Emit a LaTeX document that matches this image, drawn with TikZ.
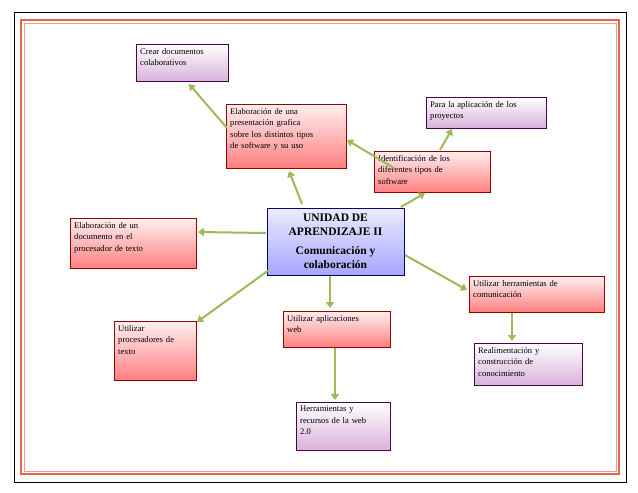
\documentclass[tikz,border=0pt]{standalone}
\usepackage{fontspec}
\setmainfont{Liberation Serif}
\usetikzlibrary{arrows.meta}
\definecolor{arrowgreen}{RGB}{155,187,89}
\newcommand\toptext[2]{\parbox[c][#1][t]{\linewidth}{\raggedright #2}}
\begin{document}
\begin{tikzpicture}[x=1pt,y=-1pt,
  box/.style={draw=#1!60!black, anchor=north west, inner sep=4pt,
    font=\fontsize{8.6}{11.5}\selectfont},
  redbox/.style={box=red, top color=red!6, bottom color=red!50},
  purplebox/.style={box=violet, top color=white, bottom color=violet!30},
  link/.style={draw=arrowgreen, line width=2pt, -{Triangle[length=6pt,width=8pt]}}]
\useasboundingbox (0,0) rectangle (638,493);
% frames
\draw [black, line width=0.8pt] (14,12) rectangle (626,482);
\draw [red!50!brown!80, line width=2.5pt] (21,20) rectangle (619,474);
\draw [red!50!brown!50, line width=0.8pt] (24,23) rectangle (616,471);
% boxes
\node [purplebox, text width=84pt] (crear) at (136,44) {\toptext{29pt}{Crear documentos\\colaborativos}};
\node [redbox, text width=112pt] (present) at (226,104) {\toptext{56pt}{Elaboración de una\\presentación grafica\\sobre los distintos tipos\\de software y su uso}};
\node [purplebox, text width=112pt] (para) at (426,97) {\toptext{23pt}{Para la aplicación de los\\proyectos}};
\node [redbox, text width=108pt] (ident) at (374,151) {\toptext{33pt}{Identificación de los\\diferentes tipos de\\software}};
\node [redbox, text width=118pt] (doc) at (70,218) {\toptext{42pt}{Elaboración de un\\documento en el\\procesador de texto}};
\node [redbox, text width=127pt] (herr) at (469,276) {\toptext{28pt}{Utilizar herramientas de\\comunicación}};
\node [redbox, text width=74pt] (proc) at (114,321) {\toptext{51pt}{Utilizar\\procesadores de\\texto}};
\node [redbox, text width=99pt] (web) at (283,311) {\toptext{28pt}{Utilizar aplicaciones\\web}};
\node [purplebox, text width=100pt] (real) at (474,343) {\toptext{34pt}{Realimentación y\\construcción de\\conocimiento}};
\node [purplebox, text width=86pt] (recur) at (296,402) {\toptext{40pt}{Herramientas y\\recursos de la web\\2.0}};
% central unit
\node [draw=blue!50!black, top color=blue!8, bottom color=blue!35, anchor=north west,
  minimum width=137pt, minimum height=67pt, inner sep=0pt] (unidad) at (267,208) {};
\begin{scope}
\clip (267,208) rectangle (404,275);
\node [anchor=north, align=center, font=\bfseries\fontsize{11.5}{14}\selectfont] at (335.5,210)
  {UNIDAD DE\\APRENDIZAJE II\\[5pt]Comunicación y\\colaboración};
\end{scope}
% arrows
\draw [link] (302,204) -- (289,171);
\draw [link] (227,128) -- (189,84);
\draw [link] (394,168) -- (347,140);
\draw [link] (440,150) -- (452,129);
\draw [link] (401,207) -- (425,193);
\draw [link] (266,233) -- (198,232);
\draw [link] (405,255) -- (467,290);
\draw [link] (269,270) -- (197,322);
\draw [link] (330,276) -- (330,308);
\draw [link] (335,348) -- (335,400);
\draw [link] (512,313) -- (512,341);
\end{tikzpicture}
\end{document}
